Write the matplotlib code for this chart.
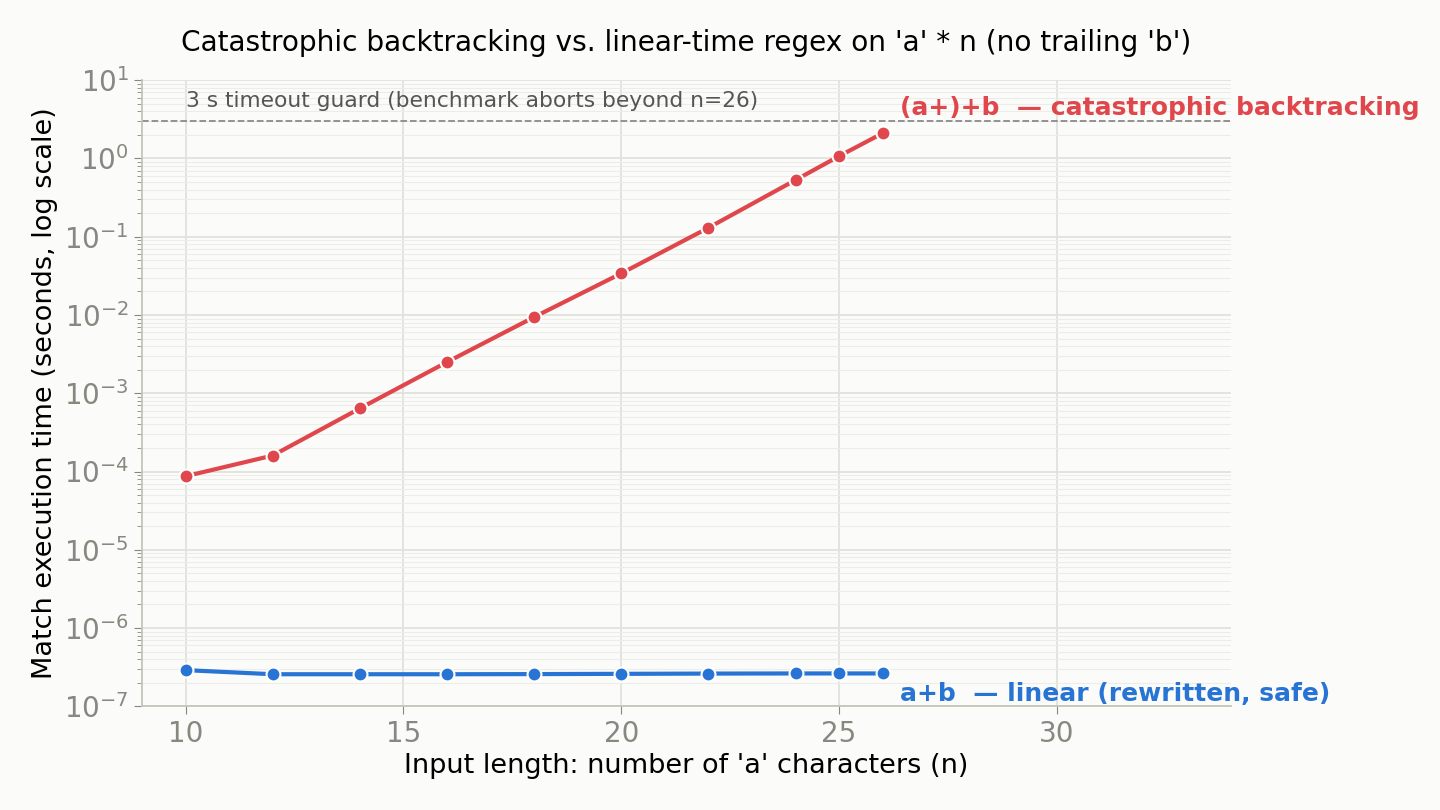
#!/usr/bin/env python3
"""
Catastrophic backtracking vs. linear-time regex timing chart.
"""
import matplotlib
matplotlib.use("Agg")
import matplotlib.pyplot as plt
from matplotlib.ticker import LogLocator, NullFormatter

# Input lengths (number of 'a' characters)
n_values = [10, 12, 14, 16, 18, 20, 22, 24, 25, 26]

# Match times in seconds
catastrophic_times = [8.7e-5, 1.6e-4, 6.4e-4, 2.5e-3, 9.4e-3, 0.034, 0.13, 0.53, 1.07, 2.1]
linear_times = [2.9e-7, 2.57e-7, 2.57e-7, 2.57e-7, 2.58e-7, 2.6e-7, 2.62e-7, 2.63e-7, 2.63e-7, 2.63e-7]

TIMEOUT_S = 3.0
RED = "#e0474c"
BLUE = "#2774d4"
BG = "#fbfbf9"

def main():
    fig, ax = plt.subplots(figsize=(14.4, 8.1), dpi=100)
    fig.patch.set_facecolor(BG)
    ax.set_facecolor(BG)

    ax.plot(n_values, catastrophic_times, color=RED, lw=3, marker="o", ms=10,
            mec="white", mew=1.5, zorder=3)
    ax.plot(n_values, linear_times, color=BLUE, lw=3, marker="o", ms=10,
            mec="white", mew=1.5, zorder=3)

    # timeout guard
    ax.axhline(TIMEOUT_S, color="#8a8a8a", ls="--", lw=1.3, zorder=2)
    ax.text(10, 4.0, "3 s timeout guard (benchmark aborts beyond n=26)",
            fontsize=15.7, color="#555555", va="bottom", ha="left")

    # direct labels
    ax.text(26.4, 3.1, "(a+)+b  — catastrophic backtracking", color=RED,
            fontsize=18, fontweight="bold", va="bottom", ha="left", clip_on=False)
    ax.text(26.4, 1.45e-7, "a+b  — linear (rewritten, safe)", color=BLUE,
            fontsize=18, fontweight="bold", va="center", ha="left", clip_on=False)

    ax.set_yscale("log")
    ax.set_ylim(1e-7, 10)
    ax.set_xlim(9, 34)
    ax.set_xticks([10, 15, 20, 25, 30])
    ax.yaxis.set_major_locator(LogLocator(base=10, numticks=20))
    ax.yaxis.set_minor_locator(LogLocator(base=10, subs=range(2, 10), numticks=20))
    ax.yaxis.set_minor_formatter(NullFormatter())

    ax.grid(True, which="major", color="#e2e2dc", lw=1.3)
    ax.grid(True, which="minor", axis="y", color="#ececE8", lw=0.8)
    ax.set_axisbelow(True)

    for side in ["top", "right"]:
        ax.spines[side].set_visible(False)
    for side in ["left", "bottom"]:
        ax.spines[side].set_color("#c4c4bc")
        ax.spines[side].set_linewidth(1.3)

    ax.tick_params(axis="both", which="major", labelsize=20, labelcolor="#888880",
                   color="#888880", length=6)
    ax.tick_params(axis="y", which="minor", color="#888880", length=3.5)

    ax.set_xlabel("Input length: number of 'a' characters (n)", fontsize=19.5)
    ax.set_ylabel("Match execution time (seconds, log scale)", fontsize=19.5)
    ax.set_title("Catastrophic backtracking vs. linear-time regex on 'a' * n (no trailing 'b')",
                 fontsize=20.2, pad=21)

    fig.subplots_adjust(left=0.0986, right=0.855, top=0.901, bottom=0.128)
    fig.savefig("out.png", dpi=100, facecolor=BG)

if __name__ == "__main__":
    main()
